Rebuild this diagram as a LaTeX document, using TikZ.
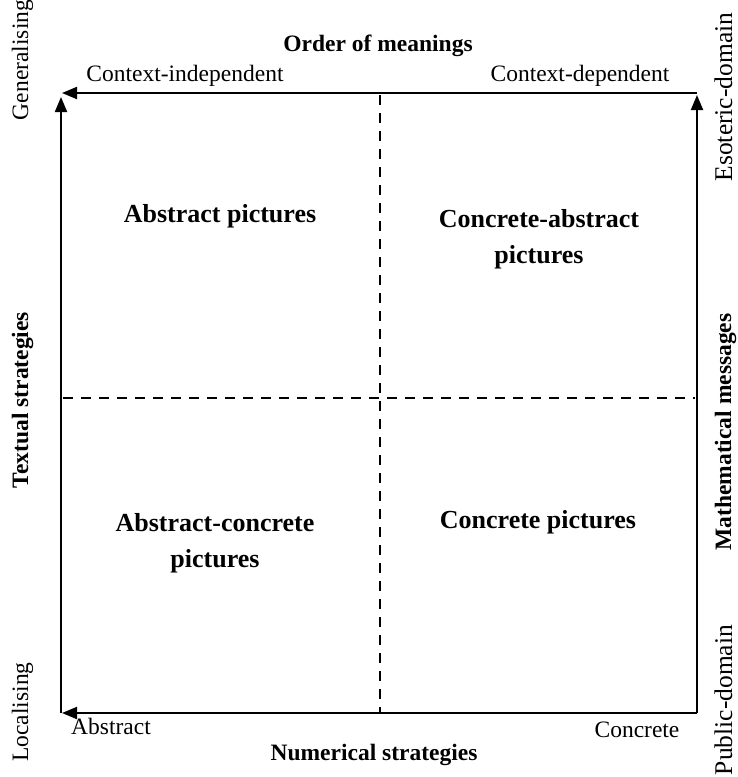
\documentclass[tikz,border=0pt]{standalone}
\usepackage{fontspec}
\setmainfont{Liberation Serif}
\usetikzlibrary{arrows.meta}
\begin{document}
\begin{tikzpicture}[x=1pt,y=-1pt,
  axisarrow/.style={line width=2pt, -{Triangle[length=15pt,width=12pt]}},
  divider/.style={line width=1.8pt, dash pattern=on 10pt off 8pt},
  lbl/.style={font=\fontsize{23.5}{28}\selectfont, anchor=base, inner sep=0pt},
  rlbl/.style={font=\fontsize{25.5}{30}\selectfont, anchor=base, inner sep=0pt},
  blbl/.style={font=\fontsize{23.5}{28}\selectfont\bfseries, anchor=base, inner sep=0pt},
  cell/.style={font=\fontsize{26}{36}\selectfont\bfseries, align=center, inner sep=0pt},
]
\useasboundingbox (0,0) rectangle (737,777);
% corners
\coordinate (TR) at (697,93);
\coordinate (TLh) at (62,93);
\coordinate (TLv) at (61,97);
\coordinate (BL) at (61,713);
\coordinate (BLh) at (62,713);
\coordinate (BR) at (697,713);
\coordinate (TRv) at (697,95);
% dividers
\coordinate (VT) at (380,95);
\coordinate (VB) at (380,712);
\coordinate (HL) at (63,398);
\coordinate (HR) at (695,398);
\draw[divider] (VT) -- (VB);
\draw[divider] (HL) -- (HR);
% axes
\draw[axisarrow] (TR) -- (TLh);
\draw[axisarrow] (BL) -- (TLv);
\draw[axisarrow] (BR) -- (TRv);
\draw[axisarrow] (BR) -- (BLh);
% top / bottom labels
\node[blbl] (om) at (378,51) {Order of meanings};
\node[lbl] (ci) at (185,81) {Context-independent};
\node[lbl] (cd) at (580,81) {Context-dependent};
\node[lbl] (ab) at (111,734) {Abstract};
\node[lbl] (co) at (637,737) {Concrete};
\node[blbl] (ns) at (374,760) {Numerical strategies};
% left labels
\node[lbl,rotate=90] (ge) at (28,60) {Generalising};
\node[blbl,rotate=90] (ts) at (28,400) {Textual strategies};
\node[lbl,rotate=90] (lo) at (28,712) {Localising};
% right labels
\node[rlbl,rotate=90] (es) at (732,97) {Esoteric-domain};
\node[blbl,rotate=90] (mm) at (731,432) {Mathematical messages};
\node[rlbl,rotate=90] (pd) at (732,700) {Public-domain};
% cells
\node[cell] (c1) at (220,216) {Abstract pictures};
\node[cell] (c2) at (539,239) {Concrete-abstract\\pictures};
\node[cell] (c3) at (215,543) {Abstract-concrete\\pictures};
\node[cell] (c4) at (538,522) {Concrete pictures};
\end{tikzpicture}
\end{document}
